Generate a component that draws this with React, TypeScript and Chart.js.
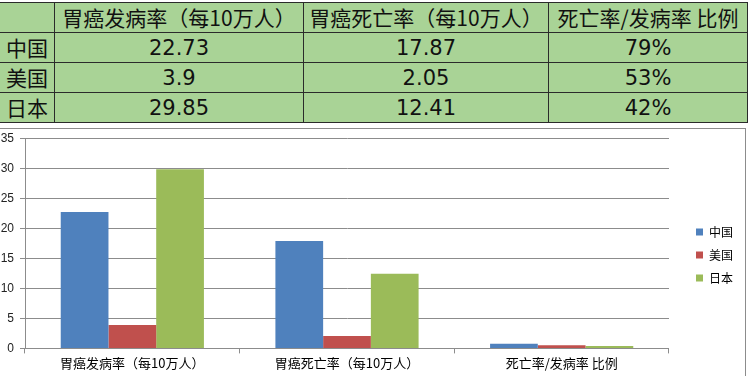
import React, { useEffect, useRef } from "react";
import { Chart, registerables } from "chart.js";

Chart.register(...registerables);

// ---- data ----
const categories = ["胃癌发病率（每10万人）", "胃癌死亡率（每10万人）", "死亡率/发病率 比例"];
const countries = ["中国", "美国", "日本"];
const chinaValues = [22.73, 17.87, 0.79];
const usaValues = [3.9, 2.05, 0.53];
const japanValues = [29.85, 12.41, 0.42];
const seriesColors = ["#4F81BD", "#C0504D", "#9BBB59"];
const yMin = 0;
const yMax = 35;
const yStep = 5;

const seriesValues = [chinaValues, usaValues, japanValues];

const formatCell = (v: number, col: number) =>
  col === 2 ? `${Math.round(v * 100)}%` : String(v);

// table geometry (border positions)
const colX = [-1, 54, 303, 548, 747];
const rowY = [2, 32, 62, 92, 122];

function DataTable() {
  const rows: string[][] = [["", ...categories]];
  countries.forEach((c, i) => {
    rows.push([c, ...seriesValues[i].map((v, j) => formatCell(v, j))]);
  });
  const cells: React.ReactNode[] = [];
  rows.forEach((row, r) => {
    row.forEach((text, c) => {
      const isNum = r > 0 && c > 0;
      cells.push(
        <div
          key={`${r}-${c}`}
          style={{
            position: "absolute",
            left: colX[c],
            top: rowY[r],
            width: colX[c + 1] - colX[c] + 1,
            height: rowY[r + 1] - rowY[r] + 1,
            boxSizing: "border-box",
            border: "1px solid #2b2b2b",
            background: "#a9d396",
            display: "flex",
            alignItems: "center",
            justifyContent: "center",
            fontFamily: isNum ? '"DejaVu Sans", "Noto Sans CJK SC", sans-serif' : '"Noto Sans CJK SC", sans-serif',
            fontSize: 21,
            color: "#111",
            whiteSpace: "nowrap",
            lineHeight: 1,
            paddingTop: isNum ? 2 : 0,
          }}
        >
          {text}
        </div>
      );
    });
  });
  return <>{cells}</>;
}

function BarChart() {
  const ref = useRef<HTMLCanvasElement | null>(null);
  useEffect(() => {
    if (!ref.current) return;
    const chart = new Chart(ref.current, {
      type: "bar",
      data: {
        labels: categories,
        datasets: countries.map((c, i) => ({
          label: c,
          data: seriesValues[i],
          backgroundColor: seriesColors[i],
          borderColor: seriesColors[i],
          borderWidth: 0,
          categoryPercentage: 0.667,
          barPercentage: 1,
          yAxisID: "y",
        })),
      },
      options: {
        responsive: false,
        animation: false,
        devicePixelRatio: 1,
        layout: { padding: { top: 12, bottom: 3, left: 0, right: 6 } },
        plugins: {
          legend: {
            position: "right",
            align: "center",
            labels: {
              boxWidth: 7,
              boxHeight: 7,
              padding: 11,
              color: "#000",
              font: { family: '"Noto Sans CJK SC"', size: 12 },
            },
          },
          tooltip: { enabled: false },
        },
        scales: {
          x: {
            grid: {
              display: true,
              drawOnChartArea: false,
              drawTicks: true,
              tickLength: 5,
              color: "#8c8c8c",
              offset: true,
            },
            border: { display: true, color: "#8c8c8c" },
            ticks: {
              color: "#000",
              padding: 2,
              maxRotation: 0,
              font: { family: '"Noto Sans CJK SC"', size: 13 },
            },
          },
          y: {
            min: yMin,
            max: yMax,
            ticks: {
              stepSize: yStep,
              padding: 6,
              color: "#222",
              font: { family: '"Liberation Sans", Arial', size: 12 },
            },
            grid: { color: "#8c8c8c", tickLength: 5 },
            border: { color: "#8c8c8c" },
            afterFit: (s: any) => {
              s.width = 25;
            },
          },
          y2: {
            position: "right",
            display: true,
            grid: { display: false },
            border: { display: false },
            ticks: { display: false },
            afterFit: (s: any) => {
              s.width = 16;
            },
          },
        },
      } as any,
    });
    return () => chart.destroy();
  }, []);
  return (
    <canvas
      ref={ref}
      width={749}
      height={251}
      style={{ position: "absolute", left: 0, top: 125, width: 749, height: 251 }}
    />
  );
}

export default function App() {
  return (
    <div
      style={{
        position: "fixed",
        left: 0,
        top: 0,
        width: 749,
        height: 376,
        background: "#fff",
        overflow: "hidden",
      }}
    >
      <DataTable />
      <div
        style={{
          position: "absolute",
          left: -1,
          top: 128,
          width: 747,
          height: 300,
          boxSizing: "border-box",
          border: "1px solid #8c8c8c",
        }}
      />
      <BarChart />
    </div>
  );
}
